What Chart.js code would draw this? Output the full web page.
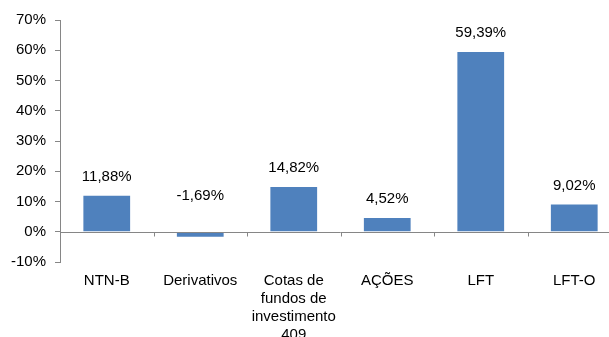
<!DOCTYPE html>
<html lang="pt-BR">
  <head>
    <meta charset="utf-8" />
    <title>Rentabilidade por ativo</title>
    <script src="https://cdn.jsdelivr.net/npm/chart.js@4/dist/chart.umd.min.js"></script>
    <style>
      html, body { margin: 0; padding: 0; background: #fff; overflow: hidden; }
      #wrap { width: 625px; height: 337px; position: relative; }
    </style>
  </head>
  <body>
    <div id="wrap"><canvas id="chart"></canvas></div>

    <script>
      const categories = ["NTN-B", "Derivativos", ["Cotas de", "fundos de", "investimento", "409"], "AÇÕES", "LFT", "LFT-O"]
      const values = [11.88, -1.69, 14.82, 4.52, 59.39, 9.02]
      const yTicks = { min: -10, max: 70, step: 10 }

      const axisGray = "#868686"
      const barBlue = "#4f81bd"
      const fontFamily = "'Liberation Sans', Arial, Helvetica, sans-serif"
      const fontSize = 15

      const fmt = v => v.toFixed(2).replace(".", ",") + "%"

      // zero line with small ticks between categories, like the excel axis
      const zeroAxis = {
        id: "zeroAxis",
        afterDatasetsDraw(chart) {
          const { ctx, chartArea, scales } = chart
          const x = scales.x, y = scales.y
          const y0 = Math.round(y.getPixelForValue(0)) + 0.5
          const w = (x.right - x.left) / categories.length
          ctx.save()
          ctx.strokeStyle = axisGray
          ctx.lineWidth = 1
          ctx.beginPath()
          ctx.moveTo(chartArea.left, y0)
          ctx.lineTo(chartArea.right, y0)
          for (let i = 0; i < categories.length; i++) {
            const bx = Math.round(x.getPixelForValue(i) + w / 2) + 0.5
            ctx.moveTo(bx, y0)
            ctx.lineTo(bx, y0 + 4)
          }
          ctx.stroke()
          ctx.restore()
        },
      }

      const valueLabels = {
        id: "valueLabels",
        afterDatasetsDraw(chart) {
          const { ctx, scales } = chart
          const meta = chart.getDatasetMeta(0)
          ctx.save()
          ctx.font = fontSize + "px " + fontFamily
          ctx.fillStyle = "#000"
          ctx.textAlign = "center"
          ctx.textBaseline = "middle"
          meta.data.forEach((bar, i) => {
            const v = values[i]
            const ty = v >= 0 ? bar.y - 19 : scales.y.getPixelForValue(0) - 36
            ctx.fillText(fmt(v), bar.x, ty)
          })
          ctx.restore()
        },
      }

      new Chart(document.getElementById("chart").getContext("2d"), {
        type: "bar",
        data: {
          labels: categories,
          datasets: [
            {
              data: values,
              backgroundColor: barBlue,
              borderWidth: 0,
              categoryPercentage: 0.5,
              barPercentage: 1,
            },
          ],
        },
        options: {
          responsive: true,
          maintainAspectRatio: false,
          animation: false,
          layout: { padding: { top: 20, right: 4, left: 0, bottom: 0 } },
          plugins: {
            legend: { display: false },
            tooltip: { enabled: false },
          },
          scales: {
            x: {
              grid: { display: false },
              border: { display: false },
              ticks: {
                autoSkip: false,
                maxRotation: 0,
                minRotation: 0,
                padding: 1.5,
                color: "#000",
                font: { family: fontFamily, size: fontSize, lineHeight: 1.2 },
              },
              afterFit: s => { s.height = 75 },
            },
            y: {
              min: yTicks.min,
              max: yTicks.max,
              border: { color: axisGray, width: 1 },
              grid: { drawOnChartArea: false, drawTicks: true, tickLength: 5, color: axisGray },
              ticks: {
                stepSize: yTicks.step,
                padding: 9,
                color: "#000",
                font: { family: fontFamily, size: fontSize },
                callback: v => v + "%",
              },
              afterFit: s => { s.width = 60 },
            },
          },
        },
        plugins: [zeroAxis, valueLabels],
      })
    </script>
  </body>
</html>
